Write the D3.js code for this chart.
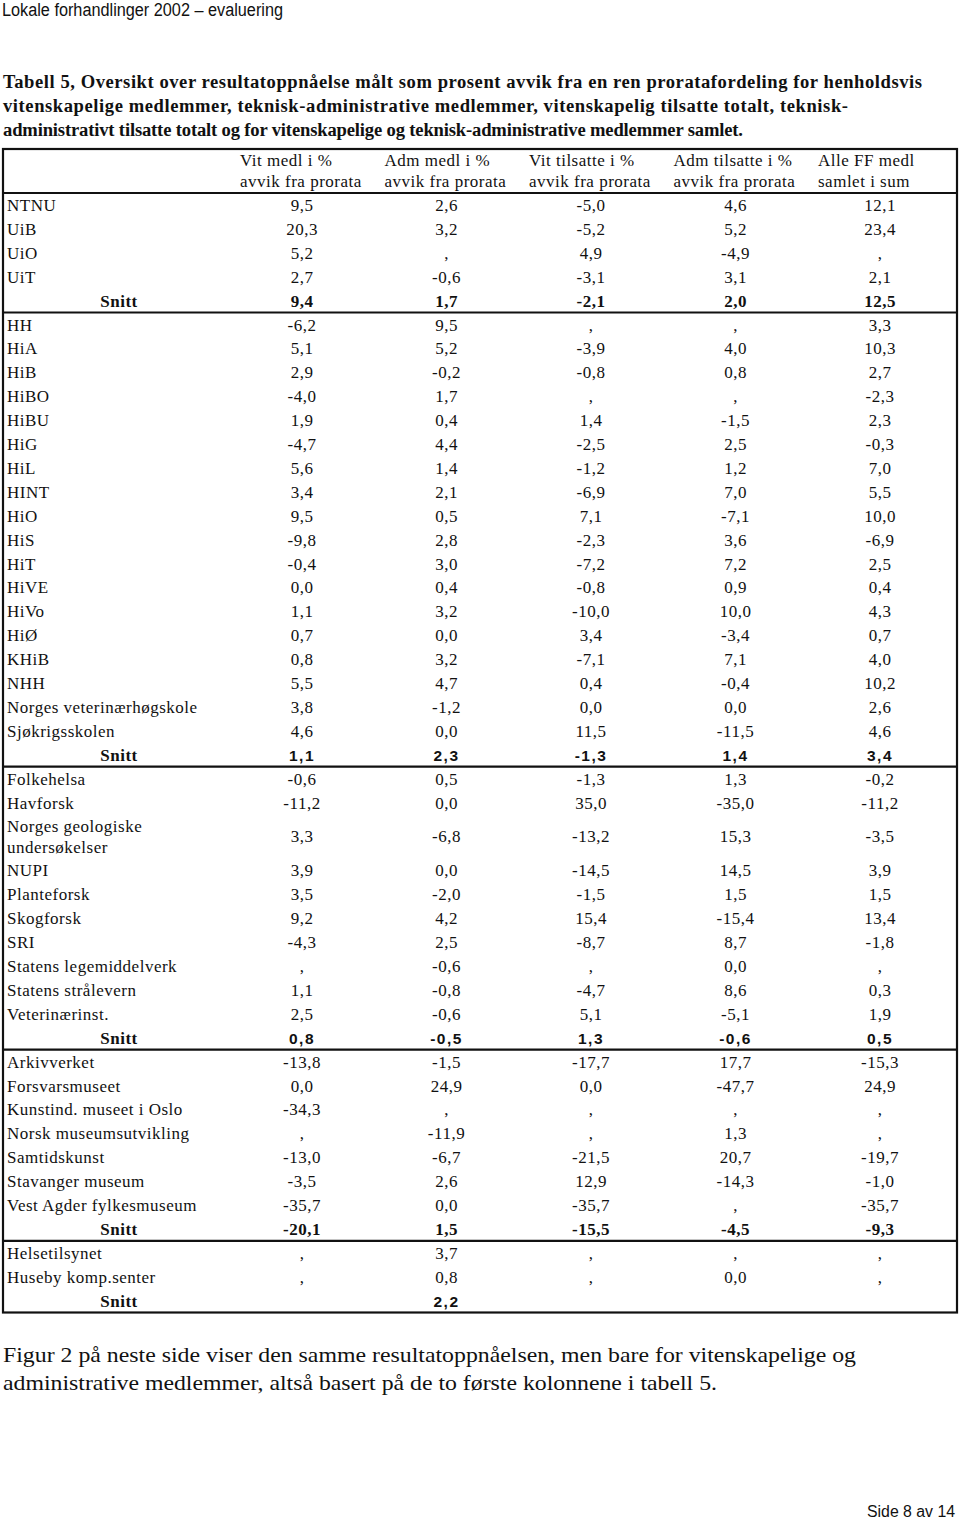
<!DOCTYPE html>
<html>
<head>
<meta charset="utf-8">
<script src="https://cdn.jsdelivr.net/npm/d3@7"></script>
<style>
  body { margin: 0; background: #fff; }
  svg { display: block; }
  .serif { font-family: "Liberation Serif", "Times New Roman", serif; }
  .sans { font-family: "Liberation Sans", Arial, sans-serif; }
</style>
</head>
<body>
<script>
// table rows, in order; "Snitt" rows close each group
const labels = [
  "NTNU", "UiB", "UiO", "UiT", "Snitt",
  "HH", "HiA", "HiB", "HiBO", "HiBU", "HiG", "HiL", "HINT", "HiO", "HiS", "HiT", "HiVE", "HiVo", "HiØ", "KHiB", "NHH",
  "Norges veterinærhøgskole", "Sjøkrigsskolen", "Snitt",
  "Folkehelsa", "Havforsk", "Norges geologiske|undersøkelser", "NUPI", "Planteforsk", "Skogforsk", "SRI",
  "Statens legemiddelverk", "Statens strålevern", "Veterinærinst.", "Snitt",
  "Arkivverket", "Forsvarsmuseet", "Kunstind. museet i Oslo", "Norsk museumsutvikling", "Samtidskunst",
  "Stavanger museum", "Vest Agder fylkesmuseum", "Snitt",
  "Helsetilsynet", "Huseby komp.senter", "Snitt"
];
const groupSizes = [5, 19, 11, 8, 3];

const vitMedl = [
  "9,5", "20,3", "5,2", "2,7", "9,4",
  "-6,2", "5,1", "2,9", "-4,0", "1,9", "-4,7", "5,6", "3,4", "9,5", "-9,8", "-0,4", "0,0", "1,1", "0,7", "0,8", "5,5", "3,8", "4,6", "1,1",
  "-0,6", "-11,2", "3,3", "3,9", "3,5", "9,2", "-4,3", ",", "1,1", "2,5", "0,8",
  "-13,8", "0,0", "-34,3", ",", "-13,0", "-3,5", "-35,7", "-20,1",
  ",", ",", ""
];
const admMedl = [
  "2,6", "3,2", ",", "-0,6", "1,7",
  "9,5", "5,2", "-0,2", "1,7", "0,4", "4,4", "1,4", "2,1", "0,5", "2,8", "3,0", "0,4", "3,2", "0,0", "3,2", "4,7", "-1,2", "0,0", "2,3",
  "0,5", "0,0", "-6,8", "0,0", "-2,0", "4,2", "2,5", "-0,6", "-0,8", "-0,6", "-0,5",
  "-1,5", "24,9", ",", "-11,9", "-6,7", "2,6", "0,0", "1,5",
  "3,7", "0,8", "2,2"
];
const vitTils = [
  "-5,0", "-5,2", "4,9", "-3,1", "-2,1",
  ",", "-3,9", "-0,8", ",", "1,4", "-2,5", "-1,2", "-6,9", "7,1", "-2,3", "-7,2", "-0,8", "-10,0", "3,4", "-7,1", "0,4", "0,0", "11,5", "-1,3",
  "-1,3", "35,0", "-13,2", "-14,5", "-1,5", "15,4", "-8,7", ",", "-4,7", "5,1", "1,3",
  "-17,7", "0,0", ",", ",", "-21,5", "12,9", "-35,7", "-15,5",
  ",", ",", ""
];
const admTils = [
  "4,6", "5,2", "-4,9", "3,1", "2,0",
  ",", "4,0", "0,8", ",", "-1,5", "2,5", "1,2", "7,0", "-7,1", "3,6", "7,2", "0,9", "10,0", "-3,4", "7,1", "-0,4", "0,0", "-11,5", "1,4",
  "1,3", "-35,0", "15,3", "14,5", "1,5", "-15,4", "8,7", "0,0", "8,6", "-5,1", "-0,6",
  "17,7", "-47,7", ",", "1,3", "20,7", "-14,3", ",", "-4,5",
  ",", "0,0", ""
];
const alleFF = [
  "12,1", "23,4", ",", "2,1", "12,5",
  "3,3", "10,3", "2,7", "-2,3", "2,3", "-0,3", "7,0", "5,5", "10,0", "-6,9", "2,5", "0,4", "4,3", "0,7", "4,0", "10,2", "2,6", "4,6", "3,4",
  "-0,2", "-11,2", "-3,5", "3,9", "1,5", "13,4", "-1,8", ",", "0,3", "1,9", "0,5",
  "-15,3", "24,9", ",", ",", "-19,7", "-1,0", "-35,7", "-9,3",
  ",", ",", ""
];
const columnHeads = [
  ["Vit medl i %", "avvik fra prorata"],
  ["Adm medl i %", "avvik fra prorata"],
  ["Vit tilsatte i %", "avvik fra prorata"],
  ["Adm tilsatte i %", "avvik fra prorata"],
  ["Alle FF medl", "samlet i sum"]
];
// font of the "Snitt" values per group, as in the original scan
const snittFont = ["serif", "sans", "sans", "serif", "sans"];

const W = 960, H = 1524;
const tableLeft = 3, tableRight = 957, tableTop = 149, headBottom = 193;
const rowH = 23.9, doubleH = 44;

const svg = d3.select("body").append("svg")
  .attr("width", W).attr("height", H)
  .attr("viewBox", [0, 0, W, H]);

// page header
svg.append("text").attr("class", "sans")
  .attr("x", 2).attr("y", 16)
  .attr("font-size", 18)
  .attr("textLength", 281).attr("lengthAdjust", "spacingAndGlyphs")
  .attr("fill", "#111")
  .text("Lokale forhandlinger 2002 – evaluering");

const titleLines = [
  ["Tabell 5, Oversikt over resultatoppnåelse målt som prosent avvik fra en ren proratafordeling for henholdsvis", 919],
  ["vitenskapelige medlemmer, teknisk-administrative medlemmer, vitenskapelig tilsatte totalt, teknisk-", 845],
  ["administrativt tilsatte totalt og for vitenskapelige og teknisk-administrative medlemmer samlet.", 740]
];
svg.append("g").selectAll("text").data(titleLines).join("text")
  .attr("class", "serif")
  .attr("x", 3).attr("y", (d, i) => 88 + i * 24)
  .attr("font-size", 18.6).attr("font-weight", "bold")
  .attr("textLength", d => d[1]).attr("lengthAdjust", "spacing")
  .attr("fill", "#111")
  .text(d => d[0]);

// column scale
const cols = d3.range(5);
const x = d3.scalePoint().domain(cols).range([302, 880]);

// row layout
const rows = labels.map((l, i) => ({
  label: l.split("|"),
  vals: [vitMedl[i], admMedl[i], vitTils[i], admTils[i], alleFF[i]],
  h: l.includes("|") ? doubleH : rowH
}));
let gi = 0, cnt = 0, yy = headBottom;
const separators = [];
rows.forEach(r => {
  r.group = gi;
  r.top = yy;
  yy += r.h;
  cnt++;
  if (cnt === groupSizes[gi]) { separators.push(yy); gi++; cnt = 0; }
});
const tableBottom = yy;

// borders
const lines = svg.append("g").attr("stroke", "#111").attr("stroke-width", 2.2);
lines.append("rect")
  .attr("x", tableLeft).attr("y", tableTop)
  .attr("width", tableRight - tableLeft).attr("height", tableBottom - tableTop)
  .attr("fill", "none");
[headBottom].concat(separators.slice(0, -1)).forEach(v => {
  lines.append("line").attr("x1", tableLeft).attr("x2", tableRight).attr("y1", v).attr("y2", v);
});

// column headings
const head = svg.append("g").attr("class", "serif").attr("font-size", 17)
  .style("letter-spacing", "0.5px").attr("fill", "#111");
columnHeads.forEach((lns, c) => {
  lns.forEach((t, k) => {
    head.append("text")
      .attr("x", x(c) - 62).attr("y", 166 + k * 21)
      .text(t);
  });
});

// body
const body = svg.append("g").attr("fill", "#111");
rows.forEach(r => {
  const isSnitt = r.label[0] === "Snitt";
  const base = r.h === doubleH ? r.top + 28 : r.top + 18;
  if (isSnitt) {
    body.append("text").attr("class", "serif")
      .attr("x", 119).attr("y", base)
      .attr("text-anchor", "middle")
      .attr("font-size", 17).attr("font-weight", "bold")
      .style("letter-spacing", "0.5px")
      .text("Snitt");
  } else {
    r.label.forEach((t, k) => {
      body.append("text").attr("class", "serif")
        .attr("x", 7).attr("y", r.top + 18 + k * 21)
        .attr("font-size", 17)
        .style("letter-spacing", "0.5px")
        .text(t);
    });
  }
  r.vals.forEach((v, c) => {
    const t = body.append("text")
      .attr("x", x(c)).attr("y", base)
      .attr("text-anchor", "middle")
      .text(v);
    if (isSnitt && snittFont[r.group] === "sans") {
      t.attr("class", "sans").attr("font-size", 15.5).attr("font-weight", "bold")
        .style("letter-spacing", "1.5px");
    } else {
      t.attr("class", "serif").attr("font-size", 17)
        .attr("font-weight", isSnitt ? "bold" : "normal")
        .style("letter-spacing", "0.5px");
    }
  });
});

// note under the table
const noteLines = [
  ["Figur 2 på neste side viser den samme resultatoppnåelsen, men bare for vitenskapelige og", 853],
  ["administrative medlemmer, altså basert på de to første kolonnene i tabell 5.", 714]
];
svg.append("g").selectAll("text").data(noteLines).join("text")
  .attr("class", "serif")
  .attr("x", 3).attr("y", (d, i) => 1362 + i * 28)
  .attr("font-size", 22)
  .attr("textLength", d => d[1]).attr("lengthAdjust", "spacingAndGlyphs")
  .attr("fill", "#111")
  .text(d => d[0]);

svg.append("text").attr("class", "sans")
  .attr("x", 867).attr("y", 1517)
  .attr("font-size", 16)
  .attr("textLength", 88).attr("lengthAdjust", "spacingAndGlyphs")
  .attr("fill", "#111")
  .text("Side 8 av 14");
</script>
</body>
</html>
